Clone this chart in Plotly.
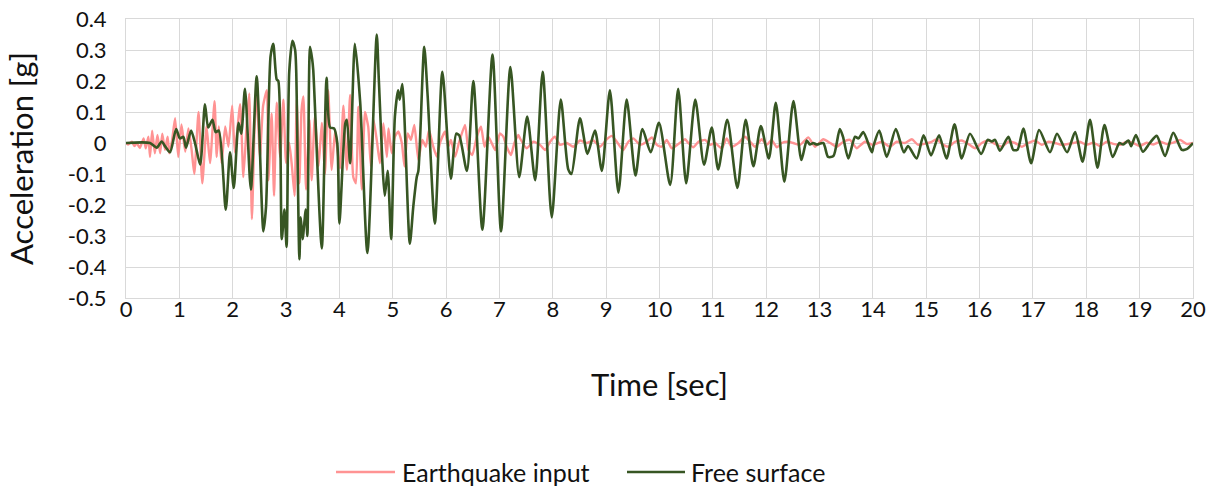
import plotly.graph_objects as go

# Earthquake input record (time in s, acceleration in g)
input_time = [
    0.0, 0.04, 0.11, 0.16, 0.2, 0.26, 0.33, 0.37, 0.42, 0.45, 0.49, 0.54, 0.59, 0.64, 0.68, 0.73,
    0.78, 0.81, 0.86, 0.92, 0.98, 1.04, 1.11, 1.17, 1.23, 1.28, 1.36, 1.43, 1.51, 1.575, 1.66, 1.7,
    1.74, 1.79, 1.86, 1.92, 1.99, 2.04, 2.14, 2.2, 2.26, 2.31, 2.36, 2.41, 2.45, 2.51, 2.57, 2.64,
    2.67, 2.73, 2.775, 2.825, 2.89, 2.95, 3.0, 3.06, 3.11, 3.16, 3.2, 3.25, 3.29, 3.325, 3.375, 3.44,
    3.48, 3.54, 3.61, 3.67, 3.73, 3.79, 3.855, 3.92, 3.96, 4.01, 4.075, 4.14, 4.2, 4.26, 4.31, 4.355,
    4.42, 4.48, 4.54, 4.59, 4.64, 4.7, 4.76, 4.825, 4.89, 4.92, 4.98, 5.04, 5.105, 5.17, 5.22, 5.28,
    5.34, 5.405, 5.48, 5.555, 5.62, 5.68, 5.76, 5.825, 5.885, 5.98, 6.04, 6.09, 6.17, 6.24, 6.355, 6.42,
    6.49, 6.575, 6.655, 6.72, 6.79, 6.855, 6.92, 7.01, 7.075, 7.135, 7.215, 7.28, 7.355, 7.385, 7.51, 7.635,
    7.76, 7.855, 7.95, 8.04, 8.135, 8.26, 8.385, 8.51, 8.635, 8.76, 8.885, 9.01, 9.105, 9.2, 9.32, 9.415,
    9.51, 9.635, 9.76, 9.855, 9.95, 10.04, 10.135, 10.23, 10.355, 10.48, 10.54, 10.635, 10.73, 10.855, 10.95, 11.04,
    11.166, 11.26, 11.35, 11.48, 11.6, 11.7, 11.79, 11.916, 12.01, 12.1, 12.2, 12.29, 12.416, 12.51, 12.634, 12.79,
    12.915, 13.07, 13.2, 13.32, 13.446, 13.57, 13.696, 13.85, 14.0, 14.165, 14.32, 14.446, 14.6, 14.73, 14.85, 15.1,
    15.19, 15.32, 15.415, 15.54, 15.665, 15.79, 15.915, 16.04, 16.165, 16.29, 16.415, 16.54, 16.665, 16.79, 16.915, 17.04,
    17.165, 17.29, 17.415, 17.54, 17.757, 17.88, 18.0, 18.13, 18.257, 18.38, 18.507, 18.63, 18.757, 18.88, 19.0, 19.13,
    19.257, 19.38, 19.507, 19.63, 19.757, 19.88, 20.0,
]
input_accel = [
    0.0, -0.005, 0.004, -0.01, 0.0, -0.016, 0.015, -0.017, 0.02, -0.045, 0.04, -0.033, 0.026, -0.033, 0.03, -0.022,
    0.02, -0.033, 0.004, 0.08, -0.045, 0.06, -0.028, 0.047, -0.022, -0.1, 0.1, -0.13, 0.053, -0.065, 0.135, -0.045,
    0.053, -0.065, 0.053, -0.012, 0.12, -0.03, 0.125, -0.11, 0.053, 0.16, -0.245, 0.05, 0.17, -0.045, 0.12, 0.17,
    -0.12, 0.095, -0.17, 0.13, -0.045, 0.14, -0.065, 0.0, -0.075, -0.17, 0.14, -0.13, 0.105, 0.15, -0.15, 0.075,
    -0.12, 0.085, -0.075, 0.065, -0.1, 0.17, -0.087, 0.04, -0.02, -0.082, 0.12, -0.087, 0.155, -0.11, -0.13, 0.117,
    -0.15, 0.1, 0.053, -0.075, 0.075, 0.01, -0.065, 0.063, -0.045, 0.047, -0.033, 0.02, 0.037, 0.0, -0.076, 0.031,
    0.01, 0.058, -0.055, 0.01, -0.012, 0.042, -0.012, -0.044, 0.0, 0.037, -0.012, 0.01, -0.044, 0.0, 0.058, -0.023,
    -0.039, 0.02, 0.053, -0.012, 0.02, 0.0, -0.023, 0.031, 0.02, -0.012, -0.039, 0.0, 0.026, 0.015, -0.017, 0.004,
    -0.006, -0.023, 0.004, 0.02, -0.006, 0.0, -0.012, 0.008, 0.0, 0.008, -0.012, 0.012, 0.023, 0.004, -0.023, 0.004,
    0.015, -0.006, 0.004, 0.018, -0.006, -0.012, 0.01, -0.017, -0.003, 0.012, 0.0, -0.014, 0.004, 0.01, -0.006, 0.0,
    -0.017, 0.015, -0.012, 0.0, 0.02, 0.004, -0.012, 0.012, -0.006, 0.01, -0.014, 0.0, 0.004, 0.0, -0.006, 0.018,
    -0.012, 0.012, 0.0, -0.012, 0.004, 0.01, -0.017, 0.004, -0.006, 0.004, -0.012, 0.004, 0.0, 0.012, -0.006, 0.004,
    0.012, -0.006, -0.012, 0.004, 0.008, -0.003, -0.017, 0.0, 0.008, -0.003, -0.012, 0.004, 0.0, -0.012, 0.0, 0.008,
    -0.006, 0.004, 0.0, -0.006, 0.0, 0.004, -0.006, 0.001, -0.01, 0.004, -0.003, -0.006, 0.004, 0.0, -0.01, 0.001,
    -0.005, 0.004, -0.003, 0.001, 0.01, -0.003, 0.0,
]

# Response at the free surface (time in s, acceleration in g)
surface_time = [
    0.0, 0.45, 0.575, 0.67, 0.73, 0.825, 0.94, 1.01, 1.075, 1.125, 1.22, 1.3, 1.39, 1.48, 1.54, 1.62,
    1.68, 1.74, 1.87, 1.95, 2.02, 2.11, 2.16, 2.23, 2.34, 2.45, 2.575, 2.625, 2.71, 2.76, 2.825, 2.855,
    2.92, 2.97, 3.01, 3.06, 3.12, 3.17, 3.19, 3.25, 3.275, 3.31, 3.37, 3.4, 3.45, 3.49, 3.51, 3.67,
    3.76, 3.825, 3.9, 3.96, 4.0, 4.11, 4.14, 4.2, 4.29, 4.39, 4.525, 4.7, 4.74, 4.85, 4.905, 4.97,
    5.04, 5.1, 5.13, 5.18, 5.32, 5.385, 5.45, 5.48, 5.59, 5.655, 5.79, 5.93, 6.09, 6.19, 6.245, 6.39,
    6.51, 6.68, 6.87, 7.03, 7.205, 7.37, 7.52, 7.67, 7.81, 7.98, 8.15, 8.29, 8.35, 8.51, 8.65, 8.79,
    8.92, 9.07, 9.23, 9.385, 9.55, 9.68, 9.835, 9.99, 10.2, 10.35, 10.5, 10.67, 10.835, 10.98, 11.1, 11.27,
    11.46, 11.615, 11.76, 11.9, 12.05, 12.18, 12.34, 12.51, 12.66, 12.76, 12.82, 12.88, 12.95, 13.07, 13.16, 13.26,
    13.38, 13.44, 13.54, 13.665, 13.73, 13.82, 13.98, 14.01, 14.12, 14.26, 14.43, 14.58, 14.66, 14.82, 14.95, 15.09,
    15.24, 15.38, 15.53, 15.665, 15.82, 16.03, 16.15, 16.23, 16.29, 16.38, 16.54, 16.63, 16.71, 16.82, 16.965, 17.115,
    17.32, 17.45, 17.64, 17.79, 17.93, 18.07, 18.21, 18.34, 18.495, 18.62, 18.69, 18.79, 18.84, 18.93, 19.06, 19.19,
    19.32, 19.475, 19.63, 19.79, 19.88, 20.0,
]
surface_accel = [
    0.0, 0.0, -0.015, 0.005, -0.01, -0.03, 0.045, 0.015, 0.02, -0.015, 0.04, -0.005, -0.07, 0.125, 0.05, 0.075,
    0.035, 0.04, -0.215, -0.03, -0.145, 0.065, 0.03, 0.175, -0.15, 0.215, -0.285, -0.205, 0.28, 0.32, 0.205, 0.2,
    -0.31, -0.215, -0.335, 0.23, 0.33, 0.3, 0.235, -0.375, -0.24, -0.31, -0.215, -0.3, 0.31, 0.27, 0.235, -0.34,
    0.21, 0.05, 0.047, 0.0, -0.26, 0.063, 0.075, -0.065, 0.32, 0.13, -0.355, 0.35, 0.2, -0.17, -0.09, -0.31,
    0.085, 0.17, 0.14, 0.19, -0.325, -0.205, -0.11, -0.09, 0.31, 0.15, -0.26, 0.23, -0.115, 0.03, 0.025, -0.09,
    0.2, -0.28, 0.285, -0.285, 0.245, -0.11, 0.085, -0.12, 0.23, -0.24, 0.14, -0.085, -0.1, 0.08, -0.035, 0.04,
    -0.09, 0.17, -0.16, 0.14, -0.105, 0.045, -0.03, 0.065, -0.135, 0.175, -0.13, 0.14, -0.07, 0.05, -0.085, 0.075,
    -0.145, 0.075, -0.075, 0.055, -0.05, 0.13, -0.125, 0.135, -0.055, 0.008, -0.005, 0.0, -0.005, 0.0, -0.045, -0.042,
    0.045, 0.02, -0.05, 0.02, 0.015, 0.035, -0.03, -0.01, 0.04, -0.045, 0.045, -0.03, -0.01, -0.05, 0.025, -0.04,
    0.025, -0.05, 0.06, -0.05, 0.03, -0.035, 0.01, 0.005, 0.01, -0.025, 0.02, -0.022, -0.022, 0.047, -0.065, 0.042,
    -0.03, 0.03, -0.03, 0.035, -0.06, 0.075, -0.08, 0.058, -0.045, 0.0, -0.005, 0.008, -0.01, 0.026, -0.028, 0.0,
    0.023, -0.042, 0.033, -0.022, -0.02, 0.0,
]

x_ticks = list(range(0, 21))
y_ticks = [0.4, 0.3, 0.2, 0.1, 0.0, -0.1, -0.2, -0.3, -0.4, -0.5]
y_tick_text = ["0.4", "0.3", "0.2", "0.1", "0", "-0.1", "-0.2", "-0.3", "-0.4", "-0.5"]

series_names = ["Earthquake input", "Free surface"]
series_colors = ["#FF9393", "#375623"]

FONT = "Lato, 'Open Sans', sans-serif"
GRID = "#D9D9D9"
TEXT = "#111111"

fig = go.Figure()
fig.add_trace(go.Scatter(
    x=input_time, y=input_accel, mode="lines", name=series_names[0],
    line=dict(color=series_colors[0], width=2.4, shape="spline", smoothing=0.5),
))
fig.add_trace(go.Scatter(
    x=surface_time, y=surface_accel, mode="lines", name=series_names[1],
    line=dict(color=series_colors[1], width=2.6, shape="spline", smoothing=0.7),
))

# Legend below the axis: a long line sample followed by the series name
PLOT_L, PLOT_W, PLOT_B, PLOT_H = 126, 1067, 298, 279


def px_x(px):
    return (px - PLOT_L) / PLOT_W


def px_y(py):
    return (PLOT_B - py) / PLOT_H


legend_y = px_y(472)
legend_slots = [(336, 395, 400), (627, 685, 689)]
for (x0, x1, xt), name, color in zip(legend_slots, series_names, series_colors):
    fig.add_shape(type="line", xref="paper", yref="paper",
                  x0=px_x(x0), x1=px_x(x1), y0=legend_y, y1=legend_y,
                  line=dict(color=color, width=2.5))
    fig.add_annotation(xref="paper", yref="paper", x=px_x(xt), y=legend_y,
                       text=name, showarrow=False, xanchor="left", yanchor="middle",
                       font=dict(family=FONT, size=25, color=TEXT))

fig.update_layout(
    width=1217, height=488,
    margin=dict(l=126, r=24, t=19, b=190),
    paper_bgcolor="white", plot_bgcolor="white",
    font=dict(family=FONT, size=22, color=TEXT),
    showlegend=False,
    xaxis=dict(
        range=[0, 20], tickvals=x_ticks, ticktext=[str(v) for v in x_ticks],
        showgrid=True, gridcolor=GRID, gridwidth=1,
        showline=True, linecolor=GRID, linewidth=1, mirror=True,
        zeroline=False, ticks="", ticklabelstandoff=-8,
        tickfont=dict(size=22),
        title=dict(text="Time [sec]", font=dict(size=31), standoff=52),
        automargin=False,
    ),
    yaxis=dict(
        range=[-0.5, 0.4], tickvals=y_ticks, ticktext=y_tick_text,
        showgrid=True, gridcolor=GRID, gridwidth=1,
        showline=True, linecolor=GRID, linewidth=1, mirror=True,
        zeroline=False, ticks="outside", ticklen=14, tickcolor="rgba(0,0,0,0)",
        tickfont=dict(size=22),
        title=dict(text="Acceleration [g]", font=dict(size=31), standoff=24),
        automargin=False,
    ),
)

fig.write_html("out.html")
